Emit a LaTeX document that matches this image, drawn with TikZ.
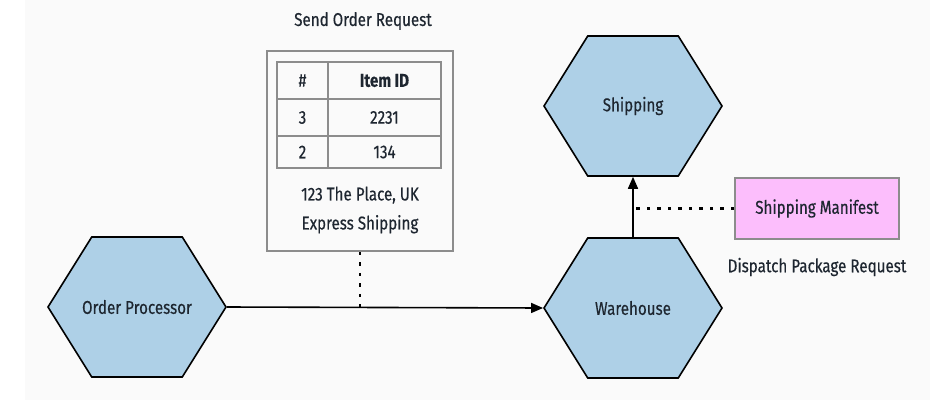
\documentclass[tikz,border=0pt]{standalone}
\usepackage{fontspec}
\setmainfont{Fira Sans}[FakeStretch=0.82, FakeBold=0.4]
\usepackage{tikz}
\usetikzlibrary{positioning,calc,shapes.symbols,arrows.meta}

\definecolor{hexblue}{RGB}{174,208,231}
\definecolor{inkdark}{RGB}{30,38,48}
\definecolor{boxgray}{RGB}{140,140,140}
\definecolor{manpink}{RGB}{252,190,252}
\definecolor{pagebg}{RGB}{250,250,250}

\begin{document}
\begin{tikzpicture}[
    x=1pt, y=-1pt,
    every node/.style={font=\fontsize{18.5}{22}\selectfont, text=inkdark},
    service/.style={signal, signal to=east and west, signal pointer angle=116,
        draw=black, line width=1.6pt, fill=hexblue, minimum width=178pt, minimum height=140pt,
        inner sep=0pt, label={center:#1}},
    msgbox/.style={draw=boxgray, line width=1.8pt},
    cell/.style={draw=boxgray, line width=1.8pt, inner sep=0pt},
    flow/.style={draw=black, line width=1.6pt, -{Triangle[length=12pt,width=10pt]}},
    tie/.style={draw=black, line width=2.4pt, dash pattern=on 3.5pt off 7pt}
]

% page
\useasboundingbox (0,0) rectangle (930,400);
\fill[pagebg] (25,0) rectangle (930,400);

% services
\node[service={Order Processor}] (op) at (137,307) {};
\node[service={Warehouse}] (wh) at (633,308) {};
\node[service={Shipping}] (sh) at (633,106) {};

% order request message
\node (title) at (363,21) {Send Order Request};
\node[msgbox, minimum width=186pt, minimum height=200pt] (req) at (360,151) {};
\node[cell, minimum width=51pt, minimum height=37pt] (h1) at (302.5,80.5) {\#};
\node[cell, minimum width=113pt, minimum height=37pt] (h2) at (384.5,80.5) {\bfseries Item ID};
\node[cell, minimum width=51pt, minimum height=37pt] (a1) at (302.5,117.5) {3};
\node[cell, minimum width=113pt, minimum height=37pt] (a2) at (384.5,117.5) {2231};
\node[cell, minimum width=51pt, minimum height=32pt] (b1) at (302.5,152) {2};
\node[cell, minimum width=113pt, minimum height=32pt] (b2) at (384.5,152) {134};
\node[align=center, font=\fontsize{18.5}{29}\selectfont] (addr) at (360,210) {123 The Place, UK\\Express Shipping};

% shipping manifest
\node[draw=boxgray, line width=1.6pt, fill=manpink, minimum width=164pt, minimum height=61pt] (man) at (817,208.5) {Shipping Manifest};
\node (dispatch) at (817,267) {Dispatch Package Request};

% connectors
\coordinate (reqtap) at (req.south |- op.east);
\coordinate (mantap) at (wh.north |- man.west);
\draw[flow] (op.east) -- (wh.west);
\draw[tie] (req.south) -- (reqtap);
\draw[flow] (wh.north) -- (sh.south);
\draw[tie] (man.west) -- (mantap);

\end{tikzpicture}
\end{document}
